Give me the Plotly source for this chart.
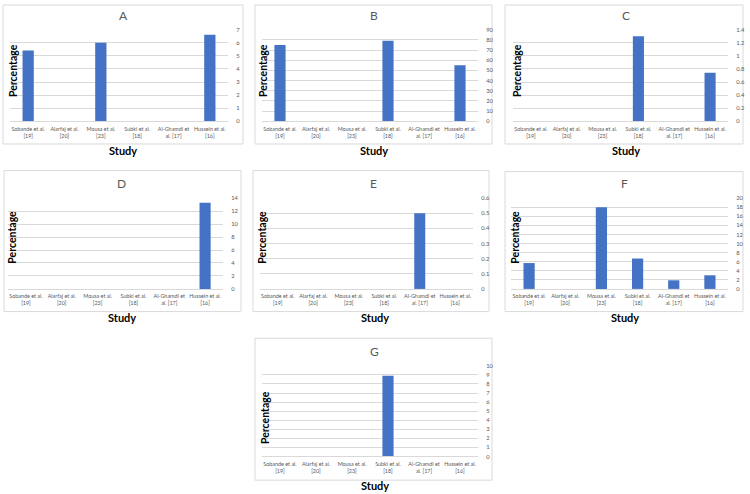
import plotly.graph_objects as go

W, H = 750, 494

studies = ["Sobande et al.<br>[19]", "Alarfaj et al.<br>[20]", "Mousa et al.<br>[23]",
           "Subki et al.<br>[18]", "Al-Ghamdi et<br>al. [17]", "Hussein et al.<br>[16]"]

panel_names = ["A", "B", "C", "D", "E", "F", "G"]
values_A = [5.4, None, 6.0, None, None, 6.6]
values_B = [75, None, None, 79, None, 55]
values_C = [None, None, None, 1.3, None, 0.74]
values_D = [None, None, None, None, None, 13.3]
values_E = [None, None, None, None, 0.5, None]
values_F = [5.7, None, 18, 6.7, 1.9, 3.0]
values_G = [None, None, None, 8.9, None, None]
y_max = [7, 90, 1.4, 14, 0.6, 20, 10]
y_step = [1, 10, 0.2, 2, 0.1, 2, 1]

all_values = [values_A, values_B, values_C, values_D, values_E, values_F, values_G]

# layout geometry in pixels: plot area (x0, x1, ytop, ybottom), box (x0, x1, y0, y1)
plot_px = [
    (10, 228, 26, 119),
    (262, 478, 26, 119),
    (513, 728, 26, 119),
    (8, 223, 197, 289),
    (260, 473, 197, 289),
    (511, 728, 197, 289),
    (262, 478, 367, 459),
]
box_px = [
    (3, 243, 1, 142),
    (255, 492, 1, 142),
    (505, 743, 1, 142),
    (4, 241, 169, 312),
    (253, 489, 169, 312),
    (505, 743, 170, 312),
    (255, 492, 339, 483),
]
title_px = [(123, 12), (374, 12), (626, 12), (121, 182), (373, 182), (624, 182), (374, 352)]
study_px = [(123, 149), (374, 149), (626, 149), (122, 318), (375, 318), (625, 318), (375, 488)]
perc_px = [(13, 68), (263, 68), (517, 68), (12, 237), (262, 237), (515, 237), (265, 420)]


def px(x):
    return x / W


def py(y):
    return 1 - y / H


BAR = "#4472C4"
GRID = "#D9D9D9"
TXT = "#595959"
FONT = "Lato, Carlito, Calibri, sans-serif"

fig = go.Figure()
layout = dict(
    width=W, height=H, margin=dict(l=0, r=0, t=0, b=0),
    paper_bgcolor="white", plot_bgcolor="white", showlegend=False,
    font=dict(family=FONT, color=TXT),
    bargap=0.69,
)
shapes = []
annotations = []

for i, vals in enumerate(all_values):
    n = i + 1
    xa = "x" if n == 1 else f"x{n}"
    ya = "y" if n == 1 else f"y{n}"
    fig.add_trace(go.Bar(x=studies, y=vals, marker=dict(color=BAR, line=dict(width=0)),
                         xaxis=xa, yaxis=ya, hoverinfo="x+y"))
    x0, x1, yt, yb = plot_px[i]
    xk = "xaxis" if n == 1 else f"xaxis{n}"
    yk = "yaxis" if n == 1 else f"yaxis{n}"
    layout[xk] = dict(domain=[px(x0), px(x1)], anchor=ya, type="category",
                      showline=True, linecolor=GRID, linewidth=1, showgrid=False,
                      ticks="outside", ticklen=2, tickcolor="rgba(0,0,0,0)",
                      tickfont=dict(size=5.4, color=TXT, family=FONT),
                      tickangle=0, fixedrange=True)
    layout[yk] = dict(domain=[py(yb), py(yt)], anchor=xa, side="right",
                      range=[0, y_max[i]], dtick=y_step[i], tick0=0,
                      showgrid=True, gridcolor=GRID, gridwidth=1, zeroline=False,
                      showline=False, ticks="outside", ticklen=6,
                      tickcolor="rgba(0,0,0,0)",
                      tickfont=dict(size=5.8, color=TXT, family=FONT), fixedrange=True)
    bx0, bx1, by0, by1 = box_px[i]
    shapes.append(dict(type="rect", xref="paper", yref="paper",
                       x0=px(bx0), x1=px(bx1), y0=py(by1), y1=py(by0),
                       line=dict(color=GRID, width=1), fillcolor="rgba(0,0,0,0)",
                       layer="below"))
    tx, ty = title_px[i]
    annotations.append(dict(text=panel_names[i], x=px(tx), y=py(ty), xref="paper", yref="paper",
                            showarrow=False, xanchor="center", yanchor="middle",
                            font=dict(size=12, color=TXT, family=FONT)))
    sx, sy = study_px[i]
    annotations.append(dict(text="<b>Study</b>", x=px(sx), y=py(sy), xref="paper", yref="paper",
                            showarrow=False, xanchor="center", yanchor="middle",
                            font=dict(size=11, color="black", family=FONT)))
    qx, qy = perc_px[i]
    annotations.append(dict(text="<b>Percentage</b>", x=px(qx), y=py(qy), xref="paper", yref="paper",
                            showarrow=False, xanchor="center", yanchor="middle", textangle=-90,
                            font=dict(size=10.5, color="black", family=FONT)))

layout["shapes"] = shapes
layout["annotations"] = annotations
fig.update_layout(**layout)
fig.write_html("out.html", config={"displayModeBar": False},
               post_script="document.body.style.margin='0';document.body.style.padding='0';")
